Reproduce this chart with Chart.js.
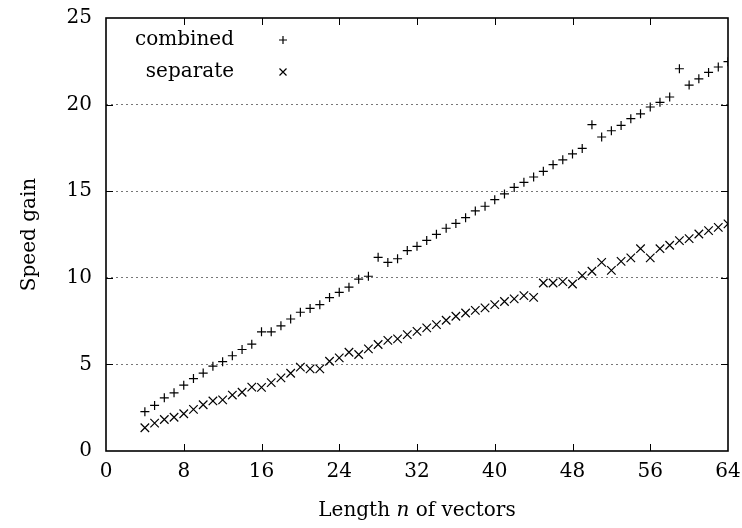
<!DOCTYPE html>
<html lang="en">
<head>
    <meta charset="UTF-8">
    <title>Speed gain vs vector length</title>
    <style>
        html, body { margin: 0; padding: 0; background: #fff; }
        #wrap { width: 742px; height: 528px; }
    </style>
</head>
<body>
    <div id="wrap"><canvas id="speedChart" width="742" height="528"></canvas></div>

    <script src="https://cdn.jsdelivr.net/npm/chart.js"></script>
    <script>
        // vector lengths n
        const lengths = [4, 5, 6, 7, 8, 9, 10, 11, 12, 13, 14, 15, 16, 17, 18, 19, 20, 21, 22, 23, 24,
            25, 26, 27, 28, 29, 30, 31, 32, 33, 34, 35, 36, 37, 38, 39, 40, 41, 42, 43, 44,
            45, 46, 47, 48, 49, 50, 51, 52, 53, 54, 55, 56, 57, 58, 59, 60, 61, 62, 63, 64];

        // speed gain, combined
        const combined = [2.27, 2.63, 3.07, 3.36, 3.80, 4.18, 4.50, 4.90, 5.16, 5.50, 5.86, 6.17, 6.88, 6.88, 7.23, 7.62, 8.01, 8.23, 8.45, 8.86, 9.16,
            9.46, 9.92, 10.09, 11.18, 10.89, 11.10, 11.57, 11.82, 12.16, 12.51, 12.86, 13.14, 13.47, 13.86, 14.13, 14.51, 14.84, 15.22, 15.51, 15.82,
            16.15, 16.53, 16.81, 17.15, 17.47, 18.84, 18.13, 18.49, 18.80, 19.19, 19.47, 19.86, 20.13, 20.44, 22.07, 21.13, 21.49, 21.86, 22.17, 22.48];

        // speed gain, separate
        const separate = [1.34, 1.61, 1.82, 1.95, 2.15, 2.40, 2.67, 2.89, 2.95, 3.23, 3.39, 3.69, 3.67, 3.95, 4.22, 4.49, 4.84, 4.74, 4.74, 5.18, 5.38,
            5.70, 5.57, 5.90, 6.15, 6.39, 6.47, 6.72, 6.91, 7.11, 7.30, 7.55, 7.78, 7.97, 8.12, 8.26, 8.45, 8.63, 8.78, 8.97, 8.87,
            9.70, 9.70, 9.78, 9.64, 10.13, 10.38, 10.89, 10.43, 10.95, 11.15, 11.68, 11.15, 11.68, 11.88, 12.15, 12.26, 12.53, 12.72, 12.91, 13.11];

        const xTicks = [0, 8, 16, 24, 32, 40, 48, 56, 64];
        const yTicks = [0, 5, 10, 15, 20, 25];
        const seriesNames = ['combined', 'separate'];

        const FONT = '"DejaVu Serif", "Liberation Serif", serif';

        function toPoints(ys) {
            return lengths.map((n, i) => ({ x: n, y: ys[i] }));
        }

        function drawMarker(ctx, style, x, y, r) {
            ctx.beginPath();
            if (style === 'cross') {
                ctx.moveTo(x - r, y); ctx.lineTo(x + r, y);
                ctx.moveTo(x, y - r); ctx.lineTo(x, y + r);
            } else {
                ctx.moveTo(x - r, y - r); ctx.lineTo(x + r, y + r);
                ctx.moveTo(x - r, y + r); ctx.lineTo(x + r, y - r);
            }
            ctx.stroke();
        }

        // frame, inward ticks, legend and axis titles (gnuplot look)
        const framePlugin = {
            id: 'frame',
            afterDraw(chart) {
                const ctx = chart.ctx;
                const a = chart.chartArea;
                const xs = chart.scales.x, ys = chart.scales.y;
                const tl = 7;
                ctx.save();
                ctx.strokeStyle = '#000';
                ctx.lineWidth = 1;
                xTicks.forEach(v => {
                    if (v === xTicks[0] || v === xTicks[xTicks.length - 1]) return;
                    const px = Math.round(xs.getPixelForValue(v)) + 0.5;
                    ctx.beginPath();
                    ctx.moveTo(px, a.bottom); ctx.lineTo(px, a.bottom - tl);
                    ctx.moveTo(px, a.top); ctx.lineTo(px, a.top + tl);
                    ctx.stroke();
                });
                yTicks.forEach(v => {
                    if (v === yTicks[0] || v === yTicks[yTicks.length - 1]) return;
                    const py = Math.round(ys.getPixelForValue(v)) + 0.5;
                    ctx.beginPath();
                    ctx.moveTo(a.left, py); ctx.lineTo(a.left + tl, py);
                    ctx.moveTo(a.right, py); ctx.lineTo(a.right - tl, py);
                    ctx.stroke();
                });
                ctx.lineWidth = 1.6;
                ctx.strokeRect(a.left, a.top, a.right - a.left, a.bottom - a.top);

                // legend
                ctx.font = '20px ' + FONT;
                ctx.fillStyle = '#000';
                ctx.textAlign = 'right';
                ctx.textBaseline = 'middle';
                ctx.lineWidth = 1.2;
                const styles = ['cross', 'crossRot'];
                seriesNames.forEach((name, i) => {
                    const ly = a.top + 22 + i * 32;
                    ctx.fillText(name, a.left + 128, ly);
                    drawMarker(ctx, styles[i], a.left + 177, ly, styles[i] === 'cross' ? 4 : 3.5);
                });

                // y title
                ctx.save();
                ctx.translate(30, (a.top + a.bottom) / 2);
                ctx.rotate(-Math.PI / 2);
                ctx.textAlign = 'center';
                ctx.fillText('Speed gain', 0, 0);
                ctx.restore();

                // x title with italic n
                const parts = [['Length ', 'normal'], ['n', 'italic'], [' of vectors', 'normal']];
                let total = 0;
                parts.forEach(p => { ctx.font = p[1] + ' 20px ' + FONT; total += ctx.measureText(p[0]).width; });
                let tx = (a.left + a.right) / 2 - total / 2;
                ctx.textAlign = 'left';
                parts.forEach(p => {
                    ctx.font = p[1] + ' 20px ' + FONT;
                    ctx.fillText(p[0], tx, 511);
                    tx += ctx.measureText(p[0]).width;
                });
                ctx.restore();
            }
        };

        function createChart() {
            const ctx = document.getElementById('speedChart').getContext('2d');
            new Chart(ctx, {
                type: 'scatter',
                data: {
                    datasets: [
                        {
                            label: seriesNames[0],
                            data: toPoints(combined),
                            pointStyle: 'cross',
                            pointRadius: 4.5,
                            borderColor: '#000',
                            backgroundColor: '#000',
                            borderWidth: 1.2
                        },
                        {
                            label: seriesNames[1],
                            data: toPoints(separate),
                            pointStyle: 'crossRot',
                            pointRadius: 6,
                            borderColor: '#000',
                            backgroundColor: '#000',
                            borderWidth: 1.2
                        }
                    ]
                },
                options: {
                    responsive: false,
                    animation: false,
                    events: [],
                    layout: { padding: { left: 0, right: 14, top: 18, bottom: 0 } },
                    plugins: {
                        legend: { display: false },
                        tooltip: { enabled: false }
                    },
                    scales: {
                        x: {
                            type: 'linear',
                            min: 0,
                            max: 64,
                            afterBuildTicks: s => { s.ticks = xTicks.map(v => ({ value: v })); },
                            afterFit: s => { s.height = 77; s.paddingLeft = 0; s.paddingRight = 0; },
                            grid: { display: false, drawTicks: false },
                            border: { display: false },
                            ticks: {
                                padding: 9,
                                color: '#000',
                                font: { family: FONT, size: 20 },
                                maxRotation: 0
                            }
                        },
                        y: {
                            min: 0,
                            max: 25,
                            afterBuildTicks: s => { s.ticks = yTicks.map(v => ({ value: v })); },
                            afterFit: s => { s.width = 106; s.paddingTop = 0; s.paddingBottom = 0; },
                            grid: {
                                drawTicks: false,
                                color: c => (c.tick && (c.tick.value === 0 || c.tick.value === 25)) ? 'rgba(0,0,0,0)' : '#777',
                                lineWidth: 1
                            },
                            border: { display: false, dash: [2, 3] },
                            ticks: {
                                padding: 14,
                                color: '#000',
                                font: { family: FONT, size: 20 }
                            }
                        }
                    }
                },
                plugins: [framePlugin]
            });
        }

        window.onload = createChart;
    </script>
</body>
</html>
